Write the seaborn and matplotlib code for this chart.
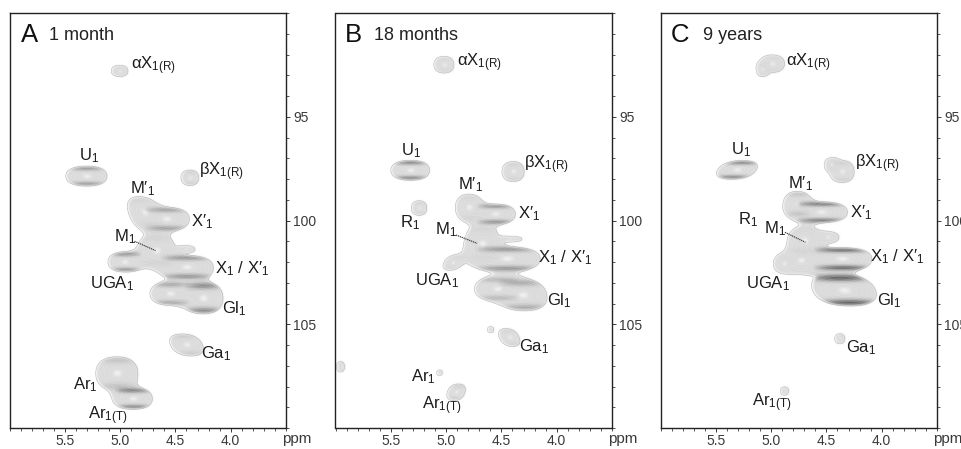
import numpy as np
import pandas as pd
import matplotlib
matplotlib.use("Agg")
import matplotlib.pyplot as plt
from matplotlib.ticker import MultipleLocator, FixedLocator, FormatStrFormatter
import seaborn as sns

sns.set_theme(style="white")
plt.rcParams['font.family'] = ['Liberation Sans', 'DejaVu Sans']
plt.rcParams['mathtext.fontset'] = 'custom'
plt.rcParams['mathtext.rm'] = 'Liberation Sans'
plt.rcParams['mathtext.default'] = 'rm'

# peak tables: centre 1H, centre 13C, half widths, edge darkness, tilt
A_x = [5.005, 5.305, 4.37, 4.78, 4.585, 4.675, 4.40, 4.96, 4.40, 4.55, 4.25, 4.40, 5.03, 4.885]
A_y = [92.79, 97.86, 97.94, 99.60, 99.93, 101.45, 101.37, 102.0, 102.25, 103.53, 103.75, 106.0, 107.37, 108.6]
A_a = [.075, .186, .08, .14, .21, .17, .07, .15, .24, .18, .18, .145, .19, .175]
A_b = [.27, .48, .37, .75, .56, .75, .15, .48, .56, .55, .75, .53, .8, .5]
A_d = [.03, .3, .07, .03, .25, .03, .02, .32, .3, .22, .32, .07, .1, .38]
A_t = [0, 0, 0, .05, 0, 0, 0, 0, 0, 0, 0, .04, 0, 0]

B_x = [5.02, 5.325, 4.395, 5.245, 4.795, 4.555, 4.42, 4.675, 4.45, 4.94, 4.54, 4.31, 4.6, 4.43, 5.955, 5.06, 4.91]
B_y = [92.49, 97.58, 97.64, 99.4, 99.37, 99.69, 100.89, 101.13, 101.85, 102.04, 103.3, 103.6, 105.26, 105.64, 107.05, 107.34, 108.28]
B_a = [.09, .175, .1, .07, .12, .18, .1, .16, .3, .08, .2, .22, .027, .09, .036, .025, .08]
B_b = [.4, .48, .48, .35, .64, .48, .12, .85, .58, .35, .55, .75, .14, .43, .25, .13, .4]
B_d = [.03, .4, .05, .04, .03, .32, .02, .02, .3, .03, .15, .2, .02, .05, .04, .02, .07]
B_t = [0, 0, 0, 0, 0, 0, 0, 0, 0, -.03, 0, .02, 0, .03, 0, 0, -.02]

C_x = [4.99, 5.08, 5.31, 4.36, 4.455, 4.765, 4.55, 4.7, 4.49, 4.885, 4.73, 4.36, 4.34, 4.38, 4.88]
C_y = [92.44, 92.73, 97.56, 97.64, 97.3, 99.2, 99.6, 100.97, 100.8, 102.09, 101.93, 101.85, 103.37, 105.7, 108.22]
C_a = [.11, .05, .175, .11, .06, .12, .24, .15, .1, .09, .15, .27, .285, .045, .037]
C_b = [.42, .32, .45, .53, .3, .6, .5, .65, .25, .42, .6, .54, .75, .24, .2]
C_d = [.03, .02, .42, .05, .02, .1, .42, .02, .02, .01, .01, .5, .5, .03, .03]
C_t = [0, 0, -.05, 0, 0, 0, 0, 0, 0, 0, 0, 0, .05, 0, 0]

# labels
A_labels = ["αX$_{1(R)}$", "U$_1$", "βX$_{1(R)}$", "M′$_1$", "X′$_1$", "M$_1$", "X$_1$ / X′$_1$", "UGA$_1$", "Gl$_1$", "Ga$_1$", "Ar$_1$", "Ar$_{1(T)}$"]
A_lx = [4.70, 5.284, 4.08, 4.794, 4.254, 4.953, 3.90, 5.07, 3.97, 4.13, 5.31, 5.11]
A_ly = [92.54, 96.89, 97.66, 98.46, 100.06, 100.78, 102.33, 103.02, 104.25, 106.44, 107.93, 109.42]

B_labels = ["αX$_{1(R)}$", "U$_1$", "βX$_{1(R)}$", "M′$_1$", "R$_1$", "X′$_1$", "M$_1$", "X$_1$ / X′$_1$", "UGA$_1$", "Gl$_1$", "Ga$_1$", "Ar$_1$", "Ar$_{1(T)}$"]
B_lx = [4.70, 5.32, 4.09, 4.78, 5.33, 4.25, 5.0, 3.92, 5.08, 3.98, 4.20, 5.21, 5.04]
B_ly = [92.38, 96.65, 97.29, 98.25, 100.12, 99.66, 100.46, 101.8, 102.92, 103.88, 106.06, 107.53, 108.92]

C_labels = ["αX$_{1(R)}$", "U$_1$", "βX$_{1(R)}$", "M′$_1$", "R$_1$", "X′$_1$", "M$_1$", "X$_1$ / X′$_1$", "UGA$_1$", "Gl$_1$", "Ga$_1$", "Ar$_{1(T)}$"]
C_lx = [4.665, 5.275, 4.04, 4.73, 5.21, 4.19, 4.965, 3.86, 5.03, 3.93, 4.19, 4.99]
C_ly = [92.41, 96.6, 97.26, 98.2, 99.96, 99.64, 100.38, 101.72, 103.05, 103.88, 106.14, 108.76]

panels = ["A", "B", "C"]
subtitles = ["1 month", "18 months", "9 years"]
letter_x = [5.815, 5.84, 5.82]
sub_x = [5.64, 5.656, 5.62]
leader_x = [[4.87, 4.68], [4.91, 4.72], [4.875, 4.69]]
leader_y = [[101.0, 101.45], [100.7, 101.1], [100.57, 101.05]]
x_ticks = [5.5, 5.0, 4.5, 4.0]
y_ticks = [95, 100, 105]
ax_left = [9.5, 335.5, 660.5]

W, H = 962, 449
fig = plt.figure(figsize=(W / 100, H / 100), dpi=100)
ink = "#3a3a3a"

gx = np.linspace(6.0, 3.5, 700)
gy = np.linspace(90, 110, 900)
XX, YY = np.meshgrid(gx, gy)
T = 0.3
P = 2.3


def soften(img, n=2):
    out = img
    for axis in (0, 1):
        for _ in range(2):
            out = sum(np.roll(out, s, axis=axis) for s in range(-n, n + 1)) / (2 * n + 1)
    return out


def spectrum(xs, ys, aa, bb, dd, tt):
    F = np.zeros_like(XX)
    shade = np.zeros_like(XX)
    glow = np.zeros_like(XX)
    k = 2 * np.log(1 / T)
    for x0, y0, a, b, d, t in zip(xs, ys, aa, bb, dd, tt):
        v = (YY - y0) / b
        u = (XX - x0 + t * (YY - y0) / b) / a
        r2 = (np.abs(u) ** P + np.abs(v) ** P) ** (2 / P)
        F += np.exp(-0.5 * k * r2)
        taper = np.clip(1 - (u / 1.0) ** 2, 0, 1)
        band = np.exp(-((np.abs(v) - 0.8) / 0.2) ** 2)
        shade += d * band * taper
        glow += np.exp(-r2 / 0.03)
    return F, shade, glow


tables = [(A_x, A_y, A_a, A_b, A_d, A_t), (B_x, B_y, B_a, B_b, B_d, B_t), (C_x, C_y, C_a, C_b, C_d, C_t)]
label_sets = [(A_labels, A_lx, A_ly), (B_labels, B_lx, B_ly), (C_labels, C_lx, C_ly)]

for i, panel in enumerate(panels):
    ax = fig.add_axes([ax_left[i] / W, 1 - 428 / H, 276.5 / W, 415 / H])
    F, shade, glow = spectrum(*tables[i])
    level = soften(np.clip(0.86 - shade + 0.1 * np.clip(glow, 0, 1), 0.1, 0.97))
    alpha = soften(np.clip((F - T) / 0.03, 0, 1))
    rgba = np.dstack([level, level, level, alpha])
    ax.imshow(rgba, extent=[6.0, 3.5, 110, 90], aspect="auto", origin="upper", interpolation="bilinear", zorder=1)
    ax.contour(XX, YY, F, levels=[T], colors="#b4b4b4", linewidths=0.4, zorder=2)
    ax.contour(XX, YY, F, levels=np.geomspace(T * 1.15, 2.0, 9), colors="#ffffff", linewidths=0.3, alpha=0.25, zorder=2)

    sns.lineplot(data=pd.DataFrame({"x": leader_x[i], "y": leader_y[i]}), x="x", y="y", ax=ax,
                 color="#444444", lw=0.9, ls=(0, (1, 0.6)), sort=False, zorder=3, errorbar=None)

    ax.set_xlim(6.0, 3.5)
    ax.set_ylim(110, 90)
    ax.set_xlabel("")
    ax.set_ylabel("")
    ax.xaxis.set_major_locator(FixedLocator(x_ticks))
    ax.xaxis.set_major_formatter(FormatStrFormatter("%.1f"))
    ax.xaxis.set_minor_locator(MultipleLocator(0.1))
    ax.yaxis.set_major_locator(FixedLocator(y_ticks))
    ax.yaxis.set_minor_locator(MultipleLocator(1))
    ax.yaxis.tick_right()
    ax.tick_params(axis="both", which="major", direction="out", length=3, width=0.7, color=ink,
                   labelsize=10, labelcolor=ink, bottom=True, right=True, left=False, top=False)
    ax.tick_params(axis="x", which="major", pad=1)
    ax.tick_params(axis="y", which="major", pad=2)
    ax.tick_params(axis="both", which="minor", direction="out", length=2.5, width=0.6, color=ink,
                   bottom=True, right=True, left=False, top=False)
    for s in ax.spines.values():
        s.set_color("#222222")
        s.set_linewidth(1.0)

    labs, lx, ly = label_sets[i]
    for t, x, y in zip(labs, lx, ly):
        ax.text(x, y, t, fontsize=12, color="#1c1c1c", ha="center", va="center", zorder=4)
    ax.text(letter_x[i], 91.05, panel, fontsize=18.5, color="#111111", ha="center", va="center", zorder=4)
    ax.text(sub_x[i], 91.1, subtitles[i], fontsize=13, color="#222222", ha="left", va="center", zorder=4)
    ax.text(3.40, 110.55, "ppm", fontsize=11, color=ink, ha="center", va="center", clip_on=False, zorder=4)

fig.savefig("out.png", dpi=100, facecolor="white")
